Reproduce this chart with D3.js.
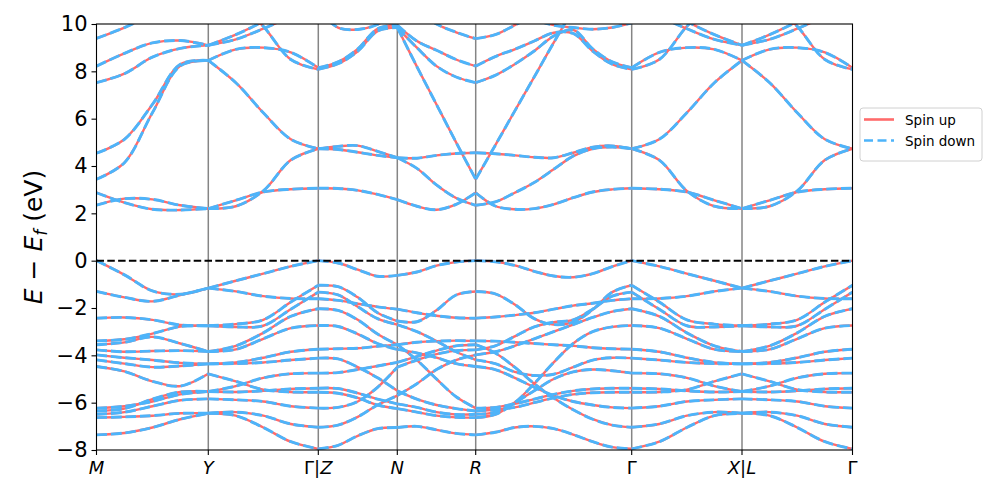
<!DOCTYPE html>
<html>
<head>
<meta charset="utf-8">
<script src="https://cdn.jsdelivr.net/npm/d3@7"></script>
<style>
  body { margin: 0; background: #fff; }
  svg { font-family: "DejaVu Sans", sans-serif; }
</style>
</head>
<body>
<svg id="chart" width="997" height="498"></svg>
<script>
// k-path: high symmetry points and their distance along the path
const kLabels = ["M", "Y", "Γ|Z", "N", "R", "Γ", "X|L", "Γ"];
const kTicks = [0, 1.118, 2.218, 3.008, 3.792, 5.352, 6.455, 7.56];
const yTicks = [-8, -6, -4, -2, 0, 2, 4, 6, 8, 10];

// band energies (eV, relative to Ef), equally spaced samples along each segment
const bandsMY = [
  [9.39, 9.85, 10.4, 10.8, 11.2],
  [8.22, 8.76, 9.2, 9.3, 9.1],
  [7.52, 7.9, 8.6, 8.97, 9.1],
  [4.54, 5.13, 6.6, 8.3, 8.46],
  [3.44, 4.14, 6.25, 8.23, 8.46],
  [2.87, 2.45, 2.17, 2.14, 2.2],
  [2.35, 2.62, 2.59, 2.34, 2.2],
  [0, -0.6, -1.28, -1.42, -1.16],
  [-1.3, -1.55, -1.72, -1.45, -1.16],
  [-2.43, -2.4, -2.5, -2.72, -2.75],
  [-3.39, -3.32, -3.08, -2.78, -2.75],
  [-3.55, -3.45, -3.22, -3.5, -3.84],
  [-3.77, -3.85, -3.82, -3.8, -3.84],
  [-3.98, -4.1, -4.2, -4.32, -4.36],
  [-4.19, -4.35, -4.5, -4.45, -4.36],
  [-4.47, -4.68, -5.1, -5.3, -4.78],
  [-6.23, -6.15, -5.95, -5.65, -5.53],
  [-6.35, -6.25, -5.85, -5.55, -5.53],
  [-6.49, -6.4, -6.15, -5.9, -5.84],
  [-6.63, -6.6, -6.55, -6.45, -6.45],
  [-7.36, -7.28, -7.05, -6.7, -6.45]
];

// Y -> Gamma (also used for Gamma -> X reversed and L -> Gamma)
const bandsYG = [
  [9.1, 9.55, 10.1, 10.7, 11.2],
  [9.1, 9.35, 9.8, 10.3, 10.7],
  [12, 11, 9.9, 8.5, 8.08],
  [8.46, 8.93, 9.0, 8.8, 8.15],
  [8.46, 7.52, 6.25, 5.13, 4.73],
  [2.2, 2.3, 2.95, 4.25, 4.73],
  [2.2, 2.55, 2.9, 3.02, 3.06],
  [-1.16, -0.85, -0.55, -0.24, 0],
  [-1.16, -1.3, -1.5, -1.6, -1.61],
  [-2.75, -2.68, -2.5, -1.75, -1.04],
  [-2.75, -2.8, -2.75, -2.05, -1.33],
  [-3.84, -3.6, -3.05, -2.35, -2.03],
  [-3.84, -3.75, -3.3, -2.85, -2.74],
  [-4.36, -4.3, -4.1, -3.85, -3.74],
  [-4.36, -4.35, -4.3, -4.2, -4.12],
  [-4.78, -5.1, -5.45, -5.55, -5.56],
  [-5.53, -5.3, -4.95, -4.78, -4.75],
  [-5.53, -5.55, -5.5, -5.42, -5.39],
  [-5.84, -5.88, -5.95, -6.15, -6.23],
  [-6.45, -6.4, -6.55, -6.9, -7.04],
  [-6.45, -6.55, -7.05, -7.65, -7.95]
];

const bandsZN = [
  [3.06, 3.05, 2.97, 2.8, 2.58],
  [4.73, 4.83, 4.86, 4.62, 4.35],
  [4.73, 4.7, 4.58, 4.45, 4.35],
  [8.15, 8.4, 8.95, 9.8, 9.95],
  [8.08, 8.32, 8.85, 9.7, 9.85],
  [10.6, 9.85, 9.77, 9.98, 10.5],
  [0, -0.1, -0.38, -0.66, -0.62],
  [-1.04, -1.1, -1.55, -2.2, -2.55],
  [-1.33, -1.45, -1.95, -2.45, -2.7],
  [-1.61, -1.68, -1.82, -1.95, -2.05],
  [-2.03, -2.1, -2.5, -3.1, -3.55],
  [-2.74, -2.78, -3.1, -3.5, -3.75],
  [-3.74, -3.72, -3.7, -3.62, -3.55],
  [-4.12, -4.15, -4.5, -4.95, -5.5],
  [-4.75, -4.73, -4.6, -4.45, -4.3],
  [-5.39, -5.4, -5.6, -5.85, -6.05],
  [-5.56, -5.6, -5.8, -6.1, -6.25],
  [-6.23, -6.2, -5.95, -5.35, -4.5],
  [-7.04, -6.95, -6.6, -6.1, -5.7],
  [-7.95, -7.8, -7.4, -7.1, -7.05]
];

const bandsNR = [
  [9.85, 8.2, 6.6, 5.0, 3.44],
  [9.95, 9.28, 8.89, 8.5, 8.22],
  [9.85, 9.0, 8.22, 7.76, 7.52],
  [11.2, 10.6, 10.0, 9.65, 9.38],
  [4.35, 4.33, 4.45, 4.53, 4.56],
  [4.35, 3.9, 3.2, 2.65, 2.34],
  [2.58, 2.3, 2.15, 2.38, 2.87],
  [-0.62, -0.48, -0.21, -0.06, 0],
  [-2.55, -2.58, -2.1, -1.45, -1.3],
  [-2.7, -3.0, -3.4, -3.85, -4.19],
  [-2.05, -2.2, -2.33, -2.41, -2.43],
  [-3.55, -4.2, -5.0, -5.75, -6.23],
  [-3.75, -3.9, -4.1, -4.35, -4.47],
  [-3.55, -3.45, -3.4, -3.38, -3.39],
  [-5.5, -5.85, -6.1, -6.25, -6.35],
  [-4.3, -4.05, -3.8, -3.6, -3.55],
  [-6.05, -6.2, -6.4, -6.5, -6.49],
  [-6.25, -6.4, -6.55, -6.62, -6.63],
  [-4.5, -4.2, -3.95, -3.8, -3.77],
  [-5.7, -5.2, -4.6, -4.2, -3.98],
  [-7.05, -7.0, -7.15, -7.3, -7.36]
];

const bandsRG = [
  [3.44, 4.87, 6.32, 7.76, 9.21, 10.6, 11.8, 12.5, 13],
  [8.22, 8.62, 8.93, 9.28, 9.63, 9.6, 8.85, 8.3, 8.08],
  [7.52, 7.83, 8.3, 8.86, 9.49, 9.75, 8.95, 8.4, 8.15],
  [9.38, 9.55, 9.95, 10.4, 10.8, 11, 11.1, 11.1, 11],
  [11.5, 11, 10.6, 10.2, 9.95, 9.85, 9.78, 9.85, 10.05],
  [4.56, 4.52, 4.45, 4.37, 4.35, 4.56, 4.8, 4.85, 4.73],
  [2.34, 2.48, 2.87, 3.3, 3.86, 4.42, 4.73, 4.8, 4.73],
  [2.87, 2.31, 2.17, 2.2, 2.38, 2.66, 2.9, 3.01, 3.06],
  [0, -0.05, -0.2, -0.45, -0.65, -0.7, -0.55, -0.25, 0],
  [-1.3, -1.4, -1.85, -2.45, -2.7, -2.6, -2.07, -1.33, -1.04],
  [-2.43, -2.38, -2.3, -2.2, -2.05, -1.9, -1.8, -1.68, -1.61],
  [-3.39, -3.4, -3.45, -3.5, -3.55, -3.6, -3.68, -3.72, -3.74],
  [-3.55, -3.9, -4.5, -5.2, -5.8, -6.3, -6.7, -6.95, -7.04],
  [-3.77, -3.6, -3.2, -2.8, -2.6, -2.5, -2.05, -1.5, -1.33],
  [-3.98, -3.85, -3.6, -3.3, -3.0, -2.7, -2.4, -2.15, -2.03],
  [-4.19, -4.35, -4.7, -4.85, -4.8, -4.5, -4.2, -4.1, -4.12],
  [-4.47, -4.6, -4.95, -5.35, -5.7, -5.95, -6.1, -6.2, -6.23],
  [-6.23, -6.2, -6.05, -5.85, -5.65, -5.5, -5.42, -5.39, -5.39],
  [-6.35, -6.3, -6.2, -6.0, -5.8, -5.65, -5.58, -5.56, -5.56],
  [-6.49, -6.4, -6.0, -5.5, -5.0, -4.7, -4.6, -4.65, -4.75],
  [-6.63, -6.5, -6.0, -5.2, -4.3, -3.5, -3.0, -2.8, -2.74],
  [-7.36, -7.25, -7.05, -7.0, -7.1, -7.35, -7.65, -7.88, -7.95]
];

// which band table fills which part of the path (index into kTicks)
const segments = [
  { a: 0, b: 1, bands: bandsMY },
  { a: 1, b: 2, bands: bandsYG },
  { a: 2, b: 3, bands: bandsZN },
  { a: 3, b: 4, bands: bandsNR },
  { a: 4, b: 5, bands: bandsRG },
  { a: 5, b: 6, bands: bandsYG, rev: true },
  { a: 6, b: 7, bands: bandsYG }
];

const upColor = "#ff6b6b";
const downColor = "#4db4fa";

const svg = d3.select("#chart");
const plotLeft = 96.5, plotRight = 852.5, plotTop = 24, plotBottom = 450;

const x = d3.scaleLinear().domain([0, kTicks[kTicks.length - 1]]).range([plotLeft, plotRight]);
const y = d3.scaleLinear().domain([-8, 10]).range([plotBottom, plotTop]);

svg.append("defs").append("clipPath").attr("id", "plotClip")
  .append("rect")
  .attr("x", plotLeft).attr("y", plotTop)
  .attr("width", plotRight - plotLeft).attr("height", plotBottom - plotTop);

// vertical lines at the high symmetry points
svg.append("g").selectAll("line")
  .data(kTicks.slice(1, -1))
  .enter().append("line")
  .attr("x1", (d) => x(d)).attr("x2", (d) => x(d))
  .attr("y1", plotTop).attr("y2", plotBottom)
  .attr("stroke", "#858585")
  .attr("stroke-width", 1.5);

// build the pieces of every band
const pieces = [];
segments.forEach((s) => {
  const k0 = kTicks[s.a], k1 = kTicks[s.b];
  s.bands.forEach((vals) => {
    const v = s.rev ? vals.slice().reverse() : vals;
    pieces.push(v.map((e, i) => [k0 + (k1 - k0) * i / (v.length - 1), e]));
  });
});

const line = d3.line()
  .x((d) => x(d[0]))
  .y((d) => y(d[1]))
  .curve(d3.curveCatmullRom.alpha(0.5));

const bandG = svg.append("g").attr("clip-path", "url(#plotClip)");

// spin up
bandG.selectAll(".up")
  .data(pieces)
  .enter().append("path")
  .attr("class", "up")
  .attr("d", line)
  .attr("fill", "none")
  .attr("stroke", upColor)
  .attr("stroke-width", 2.4);

// spin down (same eigenvalues), dashed on top
bandG.selectAll(".down")
  .data(pieces)
  .enter().append("path")
  .attr("class", "down")
  .attr("d", line)
  .attr("fill", "none")
  .attr("stroke", downColor)
  .attr("stroke-width", 2.9)
  .attr("stroke-dasharray", "10.5,4");

// Fermi level
svg.append("line")
  .attr("x1", plotLeft).attr("x2", plotRight)
  .attr("y1", y(0)).attr("y2", y(0))
  .attr("stroke", "#000")
  .attr("stroke-width", 2)
  .attr("stroke-dasharray", "7.5,3.3");

// frame
svg.append("rect")
  .attr("x", plotLeft).attr("y", plotTop)
  .attr("width", plotRight - plotLeft).attr("height", plotBottom - plotTop)
  .attr("fill", "none")
  .attr("stroke", "#000")
  .attr("stroke-width", 1.1);

// y axis
const yAxis = svg.append("g")
  .attr("transform", "translate(" + plotLeft + ",0)")
  .call(d3.axisLeft(y).tickValues(yTicks).tickSize(5).tickPadding(4)
    .tickFormat((d) => (d < 0 ? "\u2212" + Math.abs(d) : d)));
yAxis.select(".domain").remove();
yAxis.selectAll("line").attr("stroke", "#000").attr("stroke-width", 1.1);
yAxis.selectAll("text")
  .attr("font-family", "DejaVu Sans")
  .attr("font-size", "21px")
  .attr("fill", "#000");

// x axis ticks
const xAxis = svg.append("g");
xAxis.selectAll("line")
  .data(kTicks)
  .enter().append("line")
  .attr("x1", (d) => x(d)).attr("x2", (d) => x(d))
  .attr("y1", plotBottom).attr("y2", plotBottom + 5)
  .attr("stroke", "#000")
  .attr("stroke-width", 1.1);

// x labels: letters italic, Gamma and bar upright
const xLab = xAxis.selectAll("text")
  .data(kLabels)
  .enter().append("text")
  .attr("x", (d, i) => x(kTicks[i]))
  .attr("y", 474)
  .attr("text-anchor", "middle")
  .attr("font-size", "18px")
  .attr("fill", "#000");
xLab.each(function (d) {
  const t = d3.select(this);
  Array.from(d).forEach((ch) => {
    t.append("tspan")
      .attr("font-style", ch === "Γ" || ch === "|" ? "normal" : "italic")
      .text(ch);
  });
});

// y label
const yLab = svg.append("text")
  .attr("transform", "translate(42," + (plotTop + plotBottom) / 2 + ") rotate(-90)")
  .attr("text-anchor", "middle")
  .attr("font-size", "25px")
  .attr("fill", "#000");
yLab.append("tspan").attr("font-style", "italic").text("E");
yLab.append("tspan").text(" \u2212 ");
yLab.append("tspan").attr("font-style", "italic").text("E");
yLab.append("tspan").attr("font-style", "italic").attr("font-size", "17px").attr("dy", 5).text("f");
yLab.append("tspan").attr("dy", -5).text(" (eV)");

// legend
const leg = svg.append("g");
leg.append("rect")
  .attr("x", 860).attr("y", 108)
  .attr("width", 122).attr("height", 53)
  .attr("rx", 3)
  .attr("fill", "#fff")
  .attr("stroke", "#d0d0d0")
  .attr("stroke-width", 1);
const legItems = [
  { label: "Spin up", color: upColor, dash: null },
  { label: "Spin down", color: downColor, dash: "9,4.5" }
];
legItems.forEach((it, i) => {
  const yy = 119.5 + i * 21;
  leg.append("line")
    .attr("x1", 864).attr("x2", 894)
    .attr("y1", yy).attr("y2", yy)
    .attr("stroke", it.color)
    .attr("stroke-width", 2.6)
    .attr("stroke-dasharray", it.dash);
  leg.append("text")
    .attr("x", 905).attr("y", yy + 5)
    .attr("font-size", "13.5px")
    .attr("fill", "#000")
    .text(it.label);
});
</script>
</body>
</html>
